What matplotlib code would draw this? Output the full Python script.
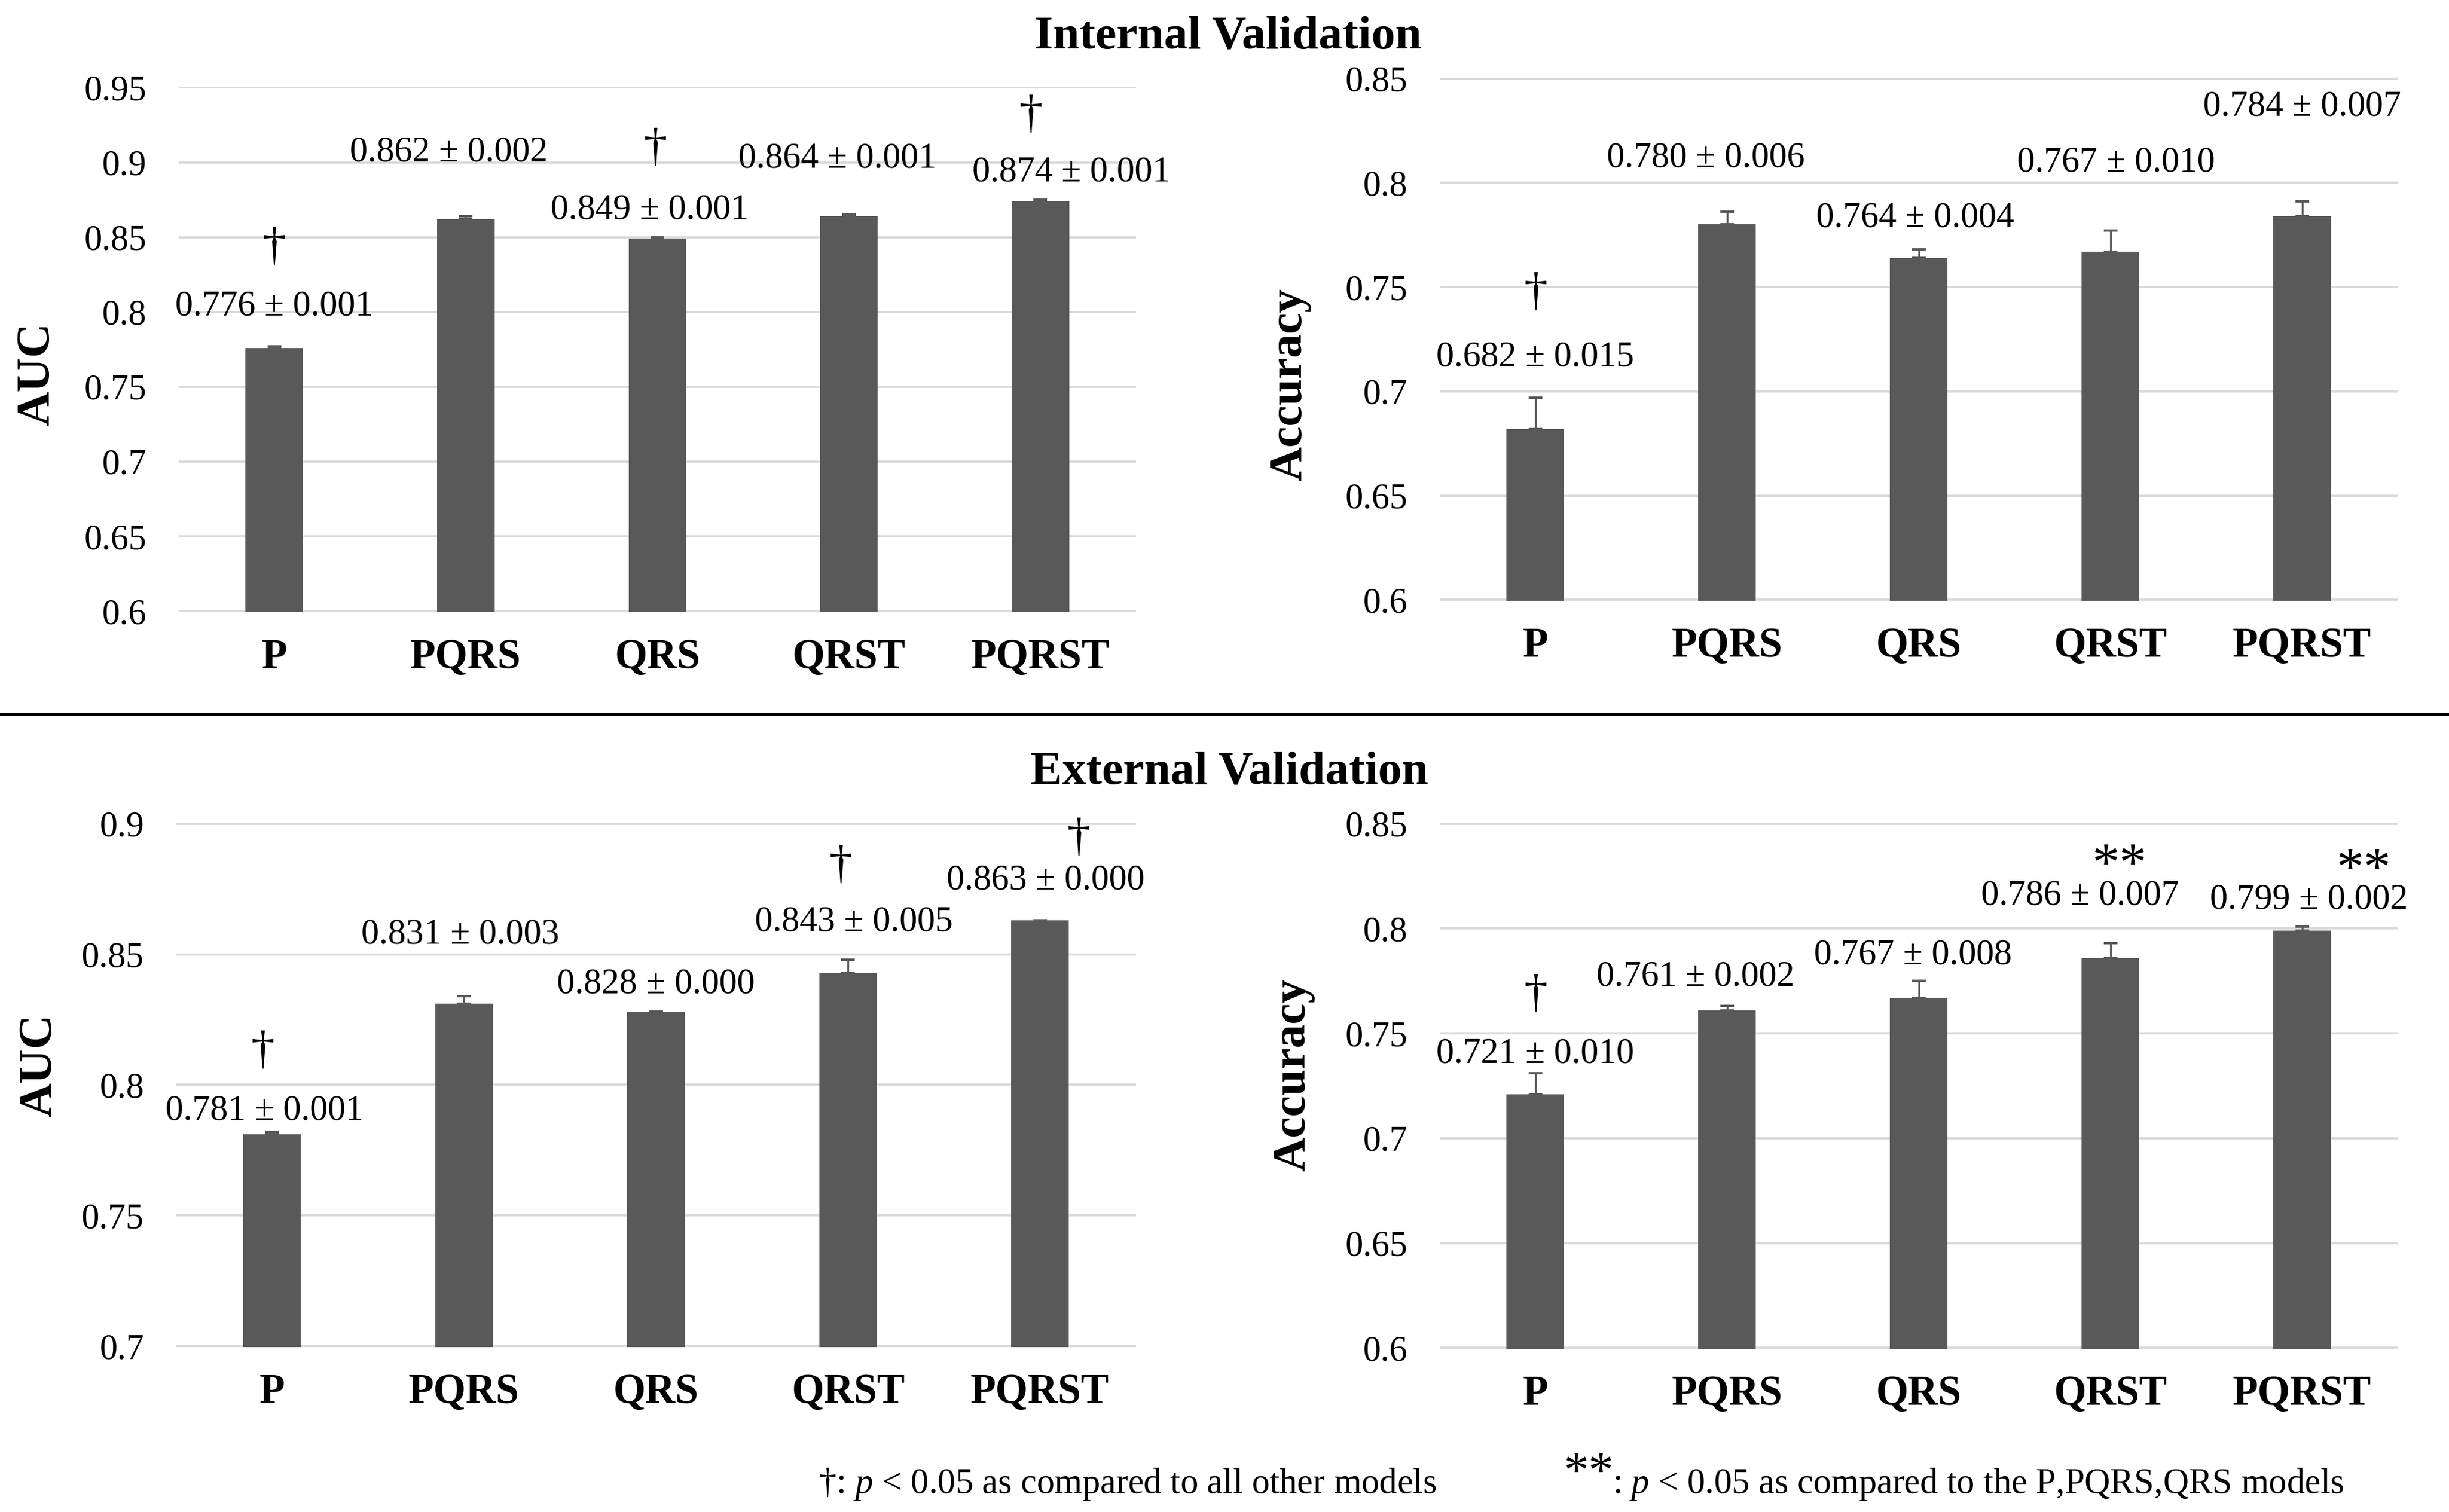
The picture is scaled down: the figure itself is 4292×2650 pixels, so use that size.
import numpy as np
import matplotlib
matplotlib.use("Agg")
import matplotlib.pyplot as plt
from matplotlib.lines import Line2D

plt.rcParams["font.family"] = ["Liberation Serif", "DejaVu Serif"]
plt.rcParams["mathtext.fontset"] = "custom"
plt.rcParams["mathtext.rm"] = "Liberation Serif"
plt.rcParams["mathtext.it"] = "Liberation Serif:italic"

# data
models = ["P", "PQRS", "QRS", "QRST", "PQRST"]

int_auc = [0.776, 0.862, 0.849, 0.864, 0.874]
int_auc_sd = [0.001, 0.002, 0.001, 0.001, 0.001]
int_auc_mark = ["†", "", "†", "", "†"]

int_acc = [0.682, 0.780, 0.764, 0.767, 0.784]
int_acc_sd = [0.015, 0.006, 0.004, 0.010, 0.007]
int_acc_mark = ["†", "", "", "", ""]

ext_auc = [0.781, 0.831, 0.828, 0.843, 0.863]
ext_auc_sd = [0.001, 0.003, 0.000, 0.005, 0.000]
ext_auc_mark = ["†", "", "", "†", "†"]

ext_acc = [0.721, 0.761, 0.767, 0.786, 0.799]
ext_acc_sd = [0.010, 0.002, 0.008, 0.007, 0.002]
ext_acc_mark = ["†", "", "", "**", "**"]

bar_color = "#595959"
grid_color = "#d9d9d9"


def draw_panel(ax, values, sds, marks, ylim, step, ylabel, lab_y, lab_dx, mk_y, mk_dx, ylab_xy):
    x = np.arange(len(models))
    ax.bar(x, values, width=0.3, color=bar_color, zorder=2)
    ax.errorbar(x, values, yerr=[np.zeros(len(sds)), sds], fmt="none", ecolor=bar_color,
                elinewidth=0.8, capsize=2.8, capthick=1.0, zorder=3)
    eps = (ylim[1] - ylim[0]) * 0.002
    ax.set_ylim(ylim[0] - eps, ylim[1] + eps)
    ax.set_xlim(-0.5, len(models) - 0.5)
    ax.set_yticks(np.arange(ylim[0], ylim[1] + step / 2, step))
    ax.yaxis.set_major_formatter(plt.FuncFormatter(lambda v, p: f"{round(v, 3):g}"))
    ax.set_xticks(x)
    ax.set_xticklabels(models, fontsize=17.5, fontweight="bold")
    ax.tick_params(axis="y", length=0, labelsize=15, pad=13.5)
    ax.tick_params(axis="x", length=0, pad=11)
    ax.yaxis.grid(True, color=grid_color, linewidth=0.9)
    ax.set_axisbelow(True)
    for s in ax.spines.values():
        s.set_visible(False)
    ax.set_ylabel(ylabel, fontsize=20, fontweight="bold")
    ax.yaxis.set_label_coords(*ylab_xy)

    for i in range(len(models)):
        ax.text(i + lab_dx[i], lab_y[i], f"{values[i]:.3f} ± {sds[i]:.3f}",
                ha="center", va="baseline", fontsize=15)
        if marks[i] == "†":
            ax.text(i + mk_dx[i], mk_y[i], "†", ha="center", va="center", fontsize=20)
        elif marks[i] == "**":
            ax.text(i + mk_dx[i], mk_y[i], "**", ha="center", va="baseline", fontsize=23)


fig = plt.figure(figsize=(4292 / 300, 2650 / 300), dpi=300)

ax1 = fig.add_axes([0.0729, 0.5951, 0.391, 0.3477])
draw_panel(ax1, int_auc, int_auc_sd, int_auc_mark, (0.6, 0.95), 0.05, "AUC",
           [0.7978, 0.9006, 0.8622, 0.8965, 0.8875], [0, -0.09, -0.04, -0.06, 0.16],
           [0.843, 0, 0.909, 0, 0.931], [0, 0, -0.01, 0, -0.05], (-0.125, 0.4525))

ax2 = fig.add_axes([0.5878, 0.6026, 0.3914, 0.3462])
draw_panel(ax2, int_acc, int_acc_sd, int_acc_mark, (0.6, 0.85), 0.05, "Accuracy",
           [0.7121, 0.8077, 0.7790, 0.8055, 0.8322], [0, -0.11, -0.02, 0.03, 0],
           [0.7469, 0, 0, 0, 0], [0, 0, 0, 0, 0], (-0.134, 0.4136))

ax3 = fig.add_axes([0.0719, 0.1091, 0.392, 0.3468])
draw_panel(ax3, ext_auc, ext_auc_sd, ext_auc_mark, (0.7, 0.9), 0.05, "AUC",
           [0.7866, 0.8542, 0.8351, 0.8589, 0.8750], [-0.04, -0.02, 0, 0.03, 0.03],
           [0.8126, 0, 0, 0.8837, 0.8943], [-0.05, 0, 0, -0.04, 0.2], (-0.12, 0.5365))

ax4 = fig.add_axes([0.5878, 0.1079, 0.3914, 0.348])
draw_panel(ax4, ext_acc, ext_acc_sd, ext_acc_mark, (0.6, 0.85), 0.05, "Accuracy",
           [0.7361, 0.7728, 0.7832, 0.8113, 0.8096], [0, -0.165, -0.03, -0.16, 0.035],
           [0.7681, 0, 0, 0.823, 0.8209], [0, 0, 0, 0.045, 0.32], (-0.130, 0.521))

fig.text(0.5014, 0.9683, "Internal Validation", ha="center", va="baseline",
         fontsize=20, fontweight="bold")
fig.text(0.502, 0.4817, "External Validation", ha="center", va="baseline",
         fontsize=20, fontweight="bold")
fig.add_artist(Line2D([0, 1], [0.5275, 0.5275], transform=fig.transFigure,
                      color="black", linewidth=1.2))

fig.text(0.334, 0.01245, r"†: $p$ < 0.05 as compared to all other models",
         ha="left", va="baseline", fontsize=15)
fig.text(0.6385, 0.0171, "**", ha="left", va="baseline", fontsize=21)
fig.text(0.6584, 0.01245, r": $p$ < 0.05 as compared to the P,PQRS,QRS models",
         ha="left", va="baseline", fontsize=15)

fig.savefig("out.png", dpi=300)
